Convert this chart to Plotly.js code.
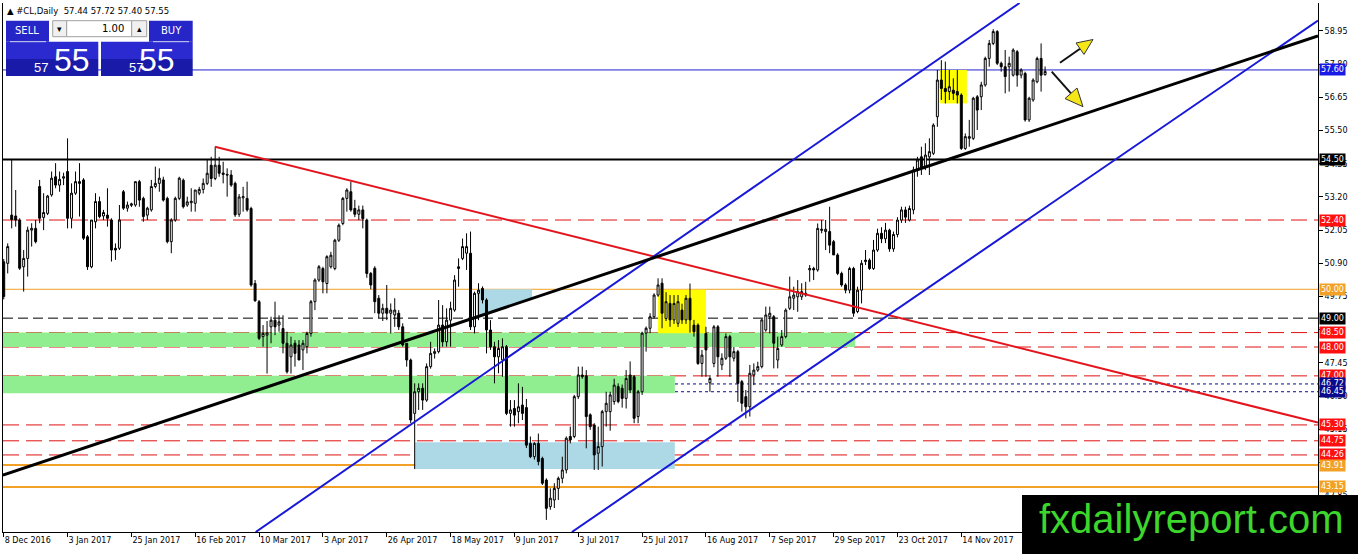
<!DOCTYPE html>
<html><head><meta charset="utf-8">
<script src="https://cdn.plot.ly/plotly-3.0.1.min.js"></script>
<style>html,body{margin:0;padding:0;background:#fff;overflow:hidden}#chart{width:1358px;height:554px}</style>
</head><body><div id="chart"></div>
<script>
// ---- data ----
const opens = [
50.95,50.90,52.57,52.54,52.40,50.78,51.07,52.05,52.11,53.56,
52.49,52.63,53.27,53.90,53.61,53.85,54.08,52.46,53.33,53.73,
53.79,51.82,50.78,52.34,53.04,52.54,52.57,52.40,51.42,51.42,
53.38,52.81,52.91,52.92,53.73,53.15,52.57,52.75,53.56,53.67,
53.79,53.15,51.65,52.40,53.15,53.78,52.92,53.00,52.98,53.33,
53.46,53.67,54.30,53.84,54.30,54.03,53.98,53.96,53.67,52.60,
53.17,53.15,52.80,50.20,49.57,48.36,48.41,48.70,48.93,48.76,
48.64,48.13,47.66,48.13,48.07,47.90,48.01,48.47,49.57,50.32,
50.72,50.20,50.78,50.72,51.70,52.28,53.15,53.38,52.80,52.60,
52.75,52.40,50.55,50.73,49.69,49.17,49.34,49.17,49.11,49.17,
48.70,48.13,47.55,45.70,46.45,46.57,46.16,47.32,47.78,47.84,
48.76,48.18,48.93,49.28,50.72,51.07,51.25,51.25,48.70,49.86,
50.03,49.63,48.59,48.01,47.66,47.55,48.01,45.70,45.87,45.76,
45.99,45.90,44.66,44.20,44.66,44.14,43.39,42.47,42.70,43.10,
43.45,43.74,44.90,44.90,46.28,47.03,47.00,45.65,45.30,44.32,
44.55,45.76,45.76,46.11,46.63,46.57,46.22,47.03,46.97,45.59,
46.45,48.48,48.65,49.05,49.80,50.21,48.99,49.51,48.94,48.82,
49.28,48.94,49.69,48.76,48.76,47.43,48.47,46.76,47.43,48.70,
47.38,47.61,48.36,47.61,47.84,46.80,46.28,45.93,47.03,47.20,
47.32,48.59,49.05,49.05,47.55,48.07,48.36,49.34,49.69,49.74,
49.74,49.86,50.67,50.72,50.67,52.08,52.00,52.00,51.65,51.19,
50.55,50.15,49.97,50.72,49.23,49.97,50.96,51.01,50.72,51.36,
51.94,51.75,52.05,51.40,51.90,52.40,52.75,52.40,52.75,54.13,
54.59,54.25,54.59,54.71,55.98,57.25,56.96,56.85,56.90,56.85,
56.73,54.88,55.23,55.23,56.67,56.67,57.08,58.00,58.52,58.93,
57.83,57.71,57.71,57.42,58.23,57.42,57.48,55.87,56.56,57.19,
58.00,57.44];
const highs = [
51.05,51.59,54.48,53.44,52.46,51.36,52.17,52.29,52.40,53.79,
53.33,53.27,54.08,54.37,54.08,54.04,55.23,53.67,54.08,54.37,
53.85,51.88,52.40,53.33,53.21,52.75,53.50,52.46,51.59,52.92,
53.44,53.04,53.00,53.73,53.79,53.21,52.86,53.79,54.25,54.19,
53.90,53.21,52.46,53.21,53.90,53.84,53.21,53.50,53.44,53.55,
53.84,54.48,54.59,54.94,54.59,54.42,54.19,54.13,53.73,53.30,
53.55,53.73,52.86,50.32,49.63,48.76,48.90,49.05,49.57,49.10,
49.10,48.53,48.36,48.24,48.24,48.24,48.53,49.63,50.38,50.84,
50.78,51.18,51.30,51.75,52.28,53.20,53.50,53.73,53.10,52.90,
52.90,52.45,50.60,50.80,49.80,49.50,50.15,49.51,49.69,49.28,
48.82,48.13,47.60,46.74,46.74,46.74,47.43,48.18,47.95,49.63,
49.45,49.34,49.57,50.49,51.07,51.76,51.94,52.00,49.92,50.21,
50.10,49.69,48.93,48.18,48.24,48.30,48.07,46.16,46.16,46.74,
46.62,46.20,44.90,44.70,45.00,44.20,43.45,43.10,43.28,43.51,
44.20,44.90,45.24,46.34,47.32,47.32,47.20,45.70,45.36,45.24,
45.82,46.45,46.45,46.90,46.74,46.70,47.20,47.50,47.03,46.51,
48.53,48.71,49.17,49.86,50.38,50.38,49.90,49.80,49.80,49.80,
49.50,49.80,50.20,48.94,48.82,47.90,48.70,47.03,48.76,48.76,
47.78,48.47,48.42,48.00,47.90,46.86,46.51,47.38,47.43,47.49,
48.99,49.40,49.40,49.11,48.36,48.59,49.34,50.44,50.09,50.32,
50.21,50.26,50.84,50.78,52.28,52.40,52.40,52.86,51.71,51.25,
50.61,50.21,50.78,50.78,50.09,51.01,51.36,51.07,51.71,52.10,
52.15,52.30,52.10,52.00,52.50,52.86,52.86,52.90,54.25,54.59,
54.94,55.06,55.23,55.75,57.60,57.94,57.89,57.60,57.31,57.60,
56.79,55.40,55.87,56.67,56.73,57.19,58.06,58.64,59.01,58.98,
57.89,58.29,58.06,58.35,58.29,57.66,57.54,56.67,57.31,58.06,
58.52,57.72];
const lows = [
49.65,50.55,52.11,52.17,50.67,49.92,50.44,51.48,51.59,52.29,
52.05,52.57,53.21,53.50,53.38,53.61,52.11,52.11,53.27,52.52,
51.71,50.67,50.73,52.11,52.46,52.40,52.17,50.96,51.02,51.36,
52.75,52.69,52.85,52.86,52.86,52.34,52.40,52.69,53.50,53.38,
53.04,51.59,51.25,52.34,53.09,52.80,52.86,52.69,52.69,53.26,
53.32,53.61,53.55,53.78,53.90,53.67,53.21,53.55,52.51,52.51,
52.69,52.69,50.09,49.57,48.24,48.01,47.08,48.13,48.41,48.53,
47.78,47.08,47.08,47.32,47.55,47.20,47.78,48.36,49.28,50.26,
49.86,49.86,50.72,50.66,51.64,52.22,52.69,52.69,52.50,52.40,
52.11,50.40,50.00,49.17,49.00,48.90,48.93,48.47,48.70,48.59,
48.01,47.32,45.36,43.77,45.82,45.82,46.10,47.25,47.60,47.78,
48.01,48.01,48.01,49.22,50.09,51.01,50.67,48.59,48.47,48.93,
49.51,47.78,47.90,46.74,47.09,46.97,45.64,45.24,45.24,45.36,
45.47,44.50,44.15,44.10,43.90,43.22,42.01,42.36,42.42,42.70,
43.28,43.62,44.66,44.84,46.20,46.90,44.49,45.13,43.74,43.74,
43.86,45.24,45.10,46.00,46.05,45.90,45.87,46.40,45.36,45.36,
46.34,47.84,48.48,48.99,49.74,48.65,48.90,48.70,48.80,48.70,
48.80,48.80,48.50,48.36,47.38,46.97,46.97,46.45,47.30,46.97,
47.20,47.55,46.97,47.50,46.10,45.76,45.53,45.59,46.68,47.14,
47.26,48.53,48.47,47.26,47.26,48.01,48.30,49.28,49.28,49.22,
49.63,49.74,50.26,50.32,50.61,51.94,51.36,51.25,51.19,50.49,
50.09,49.86,49.86,49.05,49.17,49.51,50.84,50.67,50.67,51.30,
51.60,51.60,51.30,51.30,51.80,52.30,52.30,52.35,52.60,53.90,
53.96,54.13,53.96,54.65,55.63,56.56,56.44,56.56,56.56,56.44,
54.83,54.83,54.94,55.17,55.52,56.21,57.02,57.71,58.46,57.77,
57.54,56.79,56.85,57.37,57.02,57.31,55.81,55.80,56.50,57.14,
56.85,57.40];
const closes = [
49.75,51.48,52.42,52.40,50.73,51.07,52.05,52.11,51.65,52.46,
52.66,53.23,53.85,53.61,53.81,53.90,52.46,53.33,53.73,53.67,
51.77,50.78,52.40,53.04,52.52,52.66,52.46,51.36,51.36,52.40,
52.81,52.92,52.96,53.73,53.09,52.52,52.81,53.56,53.67,53.85,
53.09,51.65,52.40,53.15,53.85,52.86,53.03,53.05,53.44,53.46,
53.67,54.02,53.84,54.30,54.02,53.98,53.96,53.61,52.58,53.20,
53.21,52.75,50.15,49.60,48.30,48.47,48.49,48.93,48.70,48.87,
48.13,47.14,48.07,47.78,47.55,48.13,48.47,49.57,50.32,50.78,
50.26,51.13,51.18,51.70,52.22,53.15,53.44,52.75,52.60,52.75,
52.45,50.55,50.15,49.57,49.17,49.34,49.17,49.28,49.28,48.70,
48.07,47.55,45.47,46.45,46.57,46.16,47.32,47.78,47.84,48.76,
48.18,48.93,49.34,50.32,50.78,51.48,51.48,48.70,49.86,49.97,
49.63,48.59,48.01,47.66,47.95,48.01,45.70,45.82,45.64,45.93,
45.70,44.60,44.20,44.66,44.03,43.28,42.41,42.76,43.10,43.45,
43.74,44.84,44.78,46.28,47.03,46.97,45.59,45.24,44.26,44.55,
45.76,46.05,46.34,46.68,46.11,46.22,46.91,46.51,45.53,46.45,
48.48,48.65,49.05,49.80,50.15,49.17,49.57,48.94,49.51,49.57,
48.94,49.69,48.94,48.53,47.43,47.72,47.90,46.91,48.70,47.66,
47.61,48.36,47.66,47.84,46.74,46.05,45.93,47.09,47.20,47.32,
48.94,49.11,49.17,48.13,47.95,48.36,49.28,49.74,49.80,49.92,
49.92,49.80,50.72,50.67,52.11,52.05,52.08,51.53,51.19,50.55,
50.15,49.97,50.72,49.17,49.97,50.90,51.01,50.72,51.36,51.94,
51.75,52.05,51.40,51.90,52.40,52.75,52.50,52.80,54.13,54.48,
54.19,54.65,54.77,55.69,57.25,56.96,56.85,57.02,56.79,56.73,
54.88,55.29,55.29,56.62,56.21,57.08,58.00,58.52,58.93,57.83,
57.71,57.37,57.83,58.29,57.42,57.60,55.87,56.62,57.25,58.00,
57.42,57.55];

const tickBars   = [0,16,32,48,64,80,96,112,128,144,160,176,192,208,224,240];
const tickLabels = ["8 Dec 2016","3 Jan 2017","25 Jan 2017","16 Feb 2017","10 Mar 2017","3 Apr 2017",
  "26 Apr 2017","18 May 2017","9 Jun 2017","3 Jul 2017","25 Jul 2017","16 Aug 2017","7 Sep 2017",
  "29 Sep 2017","23 Oct 2017","14 Nov 2017"];
const priceTicks = [58.95,57.80,56.65,55.50,54.35,53.20,52.05,50.90,49.75,48.60,47.45,46.30,45.15,44.00,42.85];
// tick labels fully hidden behind level boxes in the reference
const hiddenTicks = [48.60,44.00];

// horizontal levels drawn on the chart
const levelValues = [57.60,54.50,52.40,50.00,49.00,48.50,48.00,47.00,46.72,46.45,45.30,44.75,44.26,43.91,43.15];
// zones [fromBar, toBar, lowPrice, highPrice]
const greenZones = [[-0.2,213.4,48.00,48.50],[-0.2,168.2,46.40,47.00]];
const blueZones  = [[103.1,168.2,43.77,44.70]];
const yellowZones= [[164.0,176.0,48.48,49.98],[234.7,241.4,56.44,57.60]];
const blueWedge  = [[118.6,50.00],[132.4,50.00],[132.4,49.68],[118.6,49.05]];
// trend lines [[bar,price],[bar,price]]
const blackTrend = [[-0.18,43.56],[329.4,58.78]];
const redTrend   = [[52.96,54.94],[329.4,45.38]];
const blueUpper  = [[63.16,41.59],[254.6,59.92]];
const blueLower  = [[142.4,41.59],[329.4,59.31]];
const headerText = "▲ #CL,Daily  57.44 57.72 57.40 57.55";

// ---- styling / layout ----
const bars = opens.map((_, i) => i);
const RED='#e01010', ORANGE='#f2a126', NAVY='#0a0a8c', BLUE='#1818d8';
const levelStyle = {
  '57.60':{c:'#2020d0',w:1,d:'solid',bg:'#1a1ae6'},
  '54.50':{c:'#000',w:2,d:'solid',bg:'#000'},
  '52.40':{c:RED,w:1,d:'16px,7px',bg:'#ff1010'},
  '50.00':{c:ORANGE,w:1,d:'solid',bg:ORANGE},
  '49.00':{c:'#000',w:1,d:'10px,5px',bg:'#000'},
  '48.50':{c:RED,w:1,d:'16px,7px',bg:'#ff1010'},
  '48.00':{c:RED,w:1,d:'16px,7px',bg:'#ff1010'},
  '47.00':{c:RED,w:1,d:'16px,7px',bg:'#ff1010'},
  '46.72':{c:NAVY,w:1,d:'3px,3px',bg:NAVY},
  '46.45':{c:NAVY,w:1,d:'3px,3px',bg:NAVY},
  '45.30':{c:RED,w:1,d:'16px,7px',bg:'#ff1010'},
  '44.75':{c:RED,w:1,d:'16px,7px',bg:'#ff1010'},
  '44.26':{c:RED,w:1,d:'16px,7px',bg:'#ff1010'},
  '43.91':{c:ORANGE,w:2,d:'solid',bg:ORANGE},
  '43.15':{c:ORANGE,w:2,d:'solid',bg:ORANGE}
};

const L=3,R=1318,T=3,B=532,W=R-L,H=B-T;
const px = x => (x-L)/W, py = y => (B-y)/H;
const FONT = 'DejaVu Sans, Verdana, sans-serif';

const shapes = [];
const rectData = (z, fill) => ({type:'rect',xref:'x',yref:'y',x0:z[0],x1:z[1],y0:z[2],y1:z[3],fillcolor:fill,line:{width:0},layer:'below'});
greenZones.forEach(z => shapes.push(rectData(z,'#90ee90')));
blueZones.forEach(z => shapes.push(rectData(z,'#add8e6')));
yellowZones.forEach(z => shapes.push(rectData(z,'#ffff00')));
shapes.push({type:'path',xref:'x',yref:'y',layer:'below',fillcolor:'#add8e6',line:{width:0},
  path:'M'+blueWedge.map(p=>p[0]+','+p[1]).join(' L')+' Z'});
levelValues.forEach(v => {
  const s = levelStyle[v.toFixed(2)];
  shapes.push({type:'line',xref:'paper',yref:'y',x0:0,x1:1,y0:v,y1:v,layer:'below',line:{color:s.c,width:s.w,dash:s.d}});
});
const tl = (seg,color,w) => ({type:'line',xref:'x',yref:'y',x0:seg[0][0],y0:seg[0][1],x1:seg[1][0],y1:seg[1][1],layer:'above',line:{color,width:w}});
shapes.push(tl(redTrend,'#e4141c',2));
shapes.push(tl(blueUpper,BLUE,2));
shapes.push(tl(blueLower,BLUE,2));
shapes.push(tl(blackTrend,'#000',3));

// decorations in pixel space
const rectPx = (x0,y0,x1,y1,fill,lc,lw) => ({type:'rect',xref:'paper',yref:'paper',x0:px(x0),x1:px(x1),y0:py(y1),y1:py(y0),fillcolor:fill,line:{color:lc||fill,width:lw||0},layer:'above'});
const linePx = (x0,y0,x1,y1,c,w) => ({type:'line',xref:'paper',yref:'paper',x0:px(x0),y0:py(y0),x1:px(x1),y1:py(y1),line:{color:c,width:w},layer:'above'});
const triPx = (pts,fill) => ({type:'path',xref:'paper',yref:'paper',layer:'above',fillcolor:fill,line:{color:'#333',width:1},
  path:'M'+pts.map(p=>px(p[0])+','+py(p[1])).join(' L')+' Z'});
// arrows
shapes.push(linePx(1060,62.7,1080,48.7,'#111',2));
shapes.push(triPx([[1093,39.5],[1084,54.4],[1076,43]],'#f5e617'));
shapes.push(linePx(1051.7,71.7,1071,93.3,'#111',2));
shapes.push(triPx([[1083,106.7],[1077,88],[1065,98.6]],'#f5e617'));
// trade panel
shapes.push(rectPx(6,20.7,49,41.7,'#2626c8'));
shapes.push(rectPx(149,20.7,192.7,41.7,'#2626c8'));
shapes.push(rectPx(6,41.7,98.3,59,'#2a2ad0'));
shapes.push(rectPx(6,59,98.3,76,'#1a1aa8'));
shapes.push(rectPx(101,41.7,192.7,59,'#2a2ad0'));
shapes.push(rectPx(101,59,192.7,76,'#1a1aa8'));
shapes.push(linePx(10,41.7,46,41.7,'#d0d0f0',1));
shapes.push(linePx(153,41.7,189,41.7,'#d0d0f0',1));
shapes.push(rectPx(52.7,20.7,66.7,36.7,'#f0f0f0','#a0a0a0',1));
shapes.push(rectPx(66.7,20.7,131.7,36.7,'#ffffff','#a0a0a0',1));
shapes.push(rectPx(131.7,20.7,146.7,36.7,'#f0f0f0','#a0a0a0',1));
// watermark
shapes.push(rectPx(1022,495,1358,554,'#000000'));

const annPx = (x,y,text,size,color,family,anchor) => ({xref:'paper',yref:'paper',x:px(x),y:py(y),text,showarrow:false,
  xanchor:anchor||'center',yanchor:'middle',font:{size,color,family:family||FONT}});
const NARROW = 'Liberation Sans Narrow, Liberation Sans, sans-serif';
const annotations = [
  annPx(5,11,headerText,8.5,'#000',FONT,'left'),
  annPx(27.5,30.5,'SELL',10,'#fff'),
  annPx(171,30.5,'BUY',10,'#fff'),
  annPx(59.7,28.5,'▾',9,'#000'),
  annPx(139.2,28.5,'▴',9,'#000'),
  annPx(126,28.7,'1.00',10,'#000',FONT,'right'),
  annPx(41,67.5,'57',13,'#fff',NARROW),
  annPx(71.5,60,'55',32,'#fff',NARROW),
  annPx(135.5,67.5,'57',13,'#fff',NARROW),
  annPx(157,60,'55',32,'#fff',NARROW),
  annPx(1037,519,'fxdailyreport.com',40,'#3dd62c','Liberation Sans, Arial, sans-serif','left')
];
levelValues.forEach(v => {
  const s = levelStyle[v.toFixed(2)];
  annotations.push({xref:'paper',yref:'y',x:1,xanchor:'left',xshift:1,y:v,yanchor:'middle',text:v.toFixed(2),
    showarrow:false,bgcolor:s.bg,borderpad:1,font:{size:8,color:'#fff',family:FONT}});
});

const trace = {type:'candlestick',x:bars,open:opens,high:highs,low:lows,close:closes,
  increasing:{line:{color:'#000',width:1},fillcolor:'#ffffff'},
  decreasing:{line:{color:'#000',width:1},fillcolor:'#000000'},
  whiskerwidth:0,hoverinfo:'skip',showlegend:false};

const layout = {
  width:1358,height:554,autosize:false,
  margin:{l:L,r:1358-R,t:T,b:554-B,pad:0},
  paper_bgcolor:'#fff',plot_bgcolor:'#fff',showlegend:false,
  font:{family:FONT,size:8,color:'#000'},
  xaxis:{range:[-0.18,329.4],tickmode:'array',tickvals:tickBars,ticktext:tickLabels,
    ticks:'outside',ticklen:4,tickcolor:'#000',ticklabelposition:'outside right',
    showline:true,linecolor:'#000',linewidth:1,mirror:false,showgrid:false,zeroline:false,
    rangeslider:{visible:false},tickfont:{family:FONT,size:8,color:'#000'},fixedrange:true},
  yaxis:{side:'right',range:[41.59,59.92],tickmode:'array',tickvals:priceTicks,
    ticktext:priceTicks.map(v=>hiddenTicks.includes(v)?'':v.toFixed(2)),ticks:'outside',ticklen:4,tickcolor:'#000',
    showline:true,linecolor:'#000',linewidth:1,mirror:true,showgrid:false,zeroline:false,
    tickfont:{family:FONT,size:8,color:'#000'},fixedrange:true},
  shapes,annotations
};
Plotly.newPlot('chart',[trace],layout,{staticPlot:true,displayModeBar:false});
</script></body></html>
